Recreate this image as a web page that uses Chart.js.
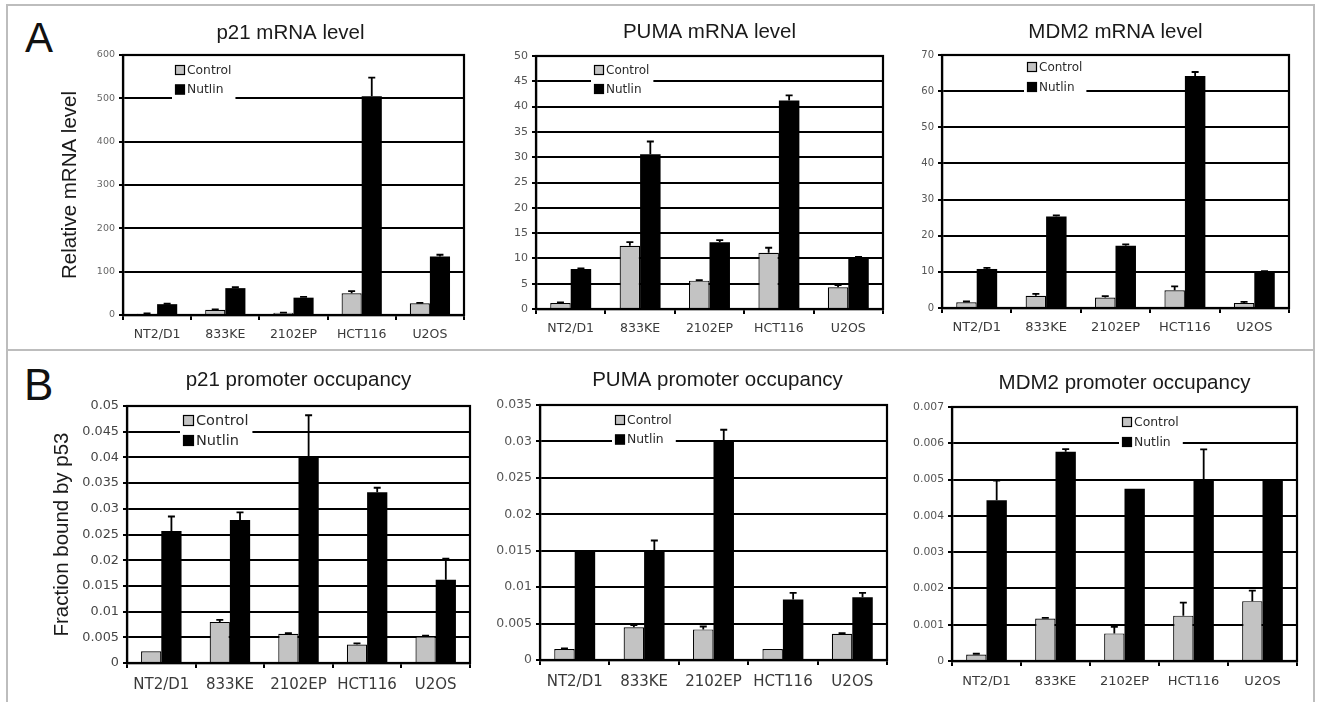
<!DOCTYPE html>
<html>
<head>
<meta charset="utf-8">
<script src="https://cdn.jsdelivr.net/npm/chart.js@4"></script>
<style>
  body { margin: 0; background: #fff; }
  #page { position: relative; width: 1320px; height: 702px; overflow: hidden; background: #fff; }
  .frame { position: absolute; left: 6px; top: 4px; width: 1305px; height: 740px; border: 2px solid #bdbdbd; }
  .divider { position: absolute; left: 6px; top: 349px; width: 1309px; height: 2px; background: #bdbdbd; }
  .letter { position: absolute; font-family: "Liberation Sans", Arial, sans-serif; color: #111; line-height: 1; }
  .box { position: absolute; }
</style>
</head>
<body>
<div id="page">
  <div class="frame"></div>
  <div class="divider"></div>
  <div class="letter" style="left:25px; top:17px; font-size:42px;">A</div>
  <div class="letter" style="left:24px; top:363px; font-size:44px;">B</div>
  <div class="box" id="b1"><canvas id="c1"></canvas></div>
  <div class="box" id="b2"><canvas id="c2"></canvas></div>
  <div class="box" id="b3"><canvas id="c3"></canvas></div>
  <div class="box" id="b4"><canvas id="c4"></canvas></div>
  <div class="box" id="b5"><canvas id="c5"></canvas></div>
  <div class="box" id="b6"><canvas id="c6"></canvas></div>
</div>
<script>
// cell lines
var cellLines = ['NT2/D1', '833KE', '2102EP', 'HCT116', 'U2OS'];
var seriesNames = ['Control', 'Nutlin'];

// A: relative mRNA levels
var p21MrnaControl = [3, 12, 5, 50, 27];
var p21MrnaControlErr = [0.5, 1, 0.5, 5, 1];
var p21MrnaNutlin = [25, 62, 40, 505, 135];
var p21MrnaNutlinErr = [1, 2, 2, 43, 4];
var p21MrnaTicks = ['0', '100', '200', '300', '400', '500', '600'];

var pumaMrnaControl = [1.2, 12.5, 5.6, 11.1, 4.3];
var pumaMrnaControlErr = [0.1, 0.7, 0.1, 1.0, 0.4];
var pumaMrnaNutlin = [7.9, 30.6, 13.2, 41.2, 10.1];
var pumaMrnaNutlinErr = [0.1, 2.5, 0.4, 1.0, 0.2];
var pumaMrnaTicks = ['0', '5', '10', '15', '20', '25', '30', '35', '40', '45', '50'];

var mdm2MrnaControl = [1.6, 3.4, 2.9, 4.9, 1.4];
var mdm2MrnaControlErr = [0.2, 0.5, 0.4, 1.1, 0.3];
var mdm2MrnaNutlin = [10.8, 25.3, 17.2, 64.2, 9.9];
var mdm2MrnaNutlinErr = [0.3, 0.3, 0.4, 1.1, 0.3];
var mdm2MrnaTicks = ['0', '10', '20', '30', '40', '50', '60', '70'];

// B: promoter occupancy (fraction bound by p53)
var p21PromControl = [0.0023, 0.0080, 0.0057, 0.0036, 0.0052];
var p21PromControlErr = [0, 0.0004, 0.0001, 0.0002, 0.0001];
var p21PromNutlin = [0.0257, 0.0278, 0.0400, 0.0332, 0.0162];
var p21PromNutlinErr = [0.0028, 0.0015, 0.0082, 0.0009, 0.0041];
var p21PromTicks = ['0', '0.005', '0.01', '0.015', '0.02', '0.025', '0.03', '0.035', '0.04', '0.045', '0.05'];

var pumaPromControl = [0.0015, 0.0045, 0.0042, 0.0015, 0.0036];
var pumaPromControlErr = [0.0001, 0.0003, 0.0004, 0, 0.0001];
var pumaPromNutlin = [0.0151, 0.0151, 0.0300, 0.0083, 0.0086];
var pumaPromNutlinErr = [0, 0.0013, 0.0016, 0.0009, 0.0006];
var pumaPromTicks = ['0', '0.005', '0.01', '0.015', '0.02', '0.025', '0.03', '0.035'];

var mdm2PromControl = [0.00018, 0.00117, 0.00076, 0.00125, 0.00165];
var mdm2PromControlErr = [0.00002, 0.00002, 0.00018, 0.00036, 0.00029];
var mdm2PromNutlin = [0.00443, 0.00577, 0.00475, 0.00500, 0.00497];
var mdm2PromNutlinErr = [0.00054, 0.00007, 0, 0.00083, 0];
var mdm2PromTicks = ['0', '0.001', '0.002', '0.003', '0.004', '0.005', '0.006', '0.007'];

var TOP_PAD = 48, X_H = 36, RIGHT_PAD = 4;

// error bars, drawn with the y scale
var errorBars = {
  id: 'errorBars',
  afterDatasetsDraw: function(chart) {
    var ctx = chart.ctx, y = chart.scales.y;
    ctx.save();
    ctx.strokeStyle = '#000';
    ctx.lineWidth = 1.8;
    chart.data.datasets.forEach(function(ds, i) {
      var meta = chart.getDatasetMeta(i);
      meta.data.forEach(function(bar, j) {
        var e = ds.errors[j];
        if (!e) return;
        var yEnd = y.getPixelForValue(ds.data[j] + e);
        ctx.beginPath();
        ctx.moveTo(bar.x, bar.y);
        ctx.lineTo(bar.x, yEnd);
        ctx.moveTo(bar.x - 3.5, yEnd);
        ctx.lineTo(bar.x + 3.5, yEnd);
        ctx.stroke();
      });
    });
    ctx.restore();
  }
};

// legend box inside the plot, with white background over grid lines
var innerLegend = {
  id: 'innerLegend',
  afterDatasetsDraw: function(chart, args, o) {
    var ctx = chart.ctx, a = chart.chartArea;
    var x0 = a.left + o.dx, y0 = a.top + o.dy;
    ctx.save();
    ctx.font = o.size + 'px "DejaVu Sans"';
    var w = 0;
    chart.data.datasets.forEach(function(ds) { w = Math.max(w, ctx.measureText(ds.label).width); });
    ctx.fillStyle = '#fff';
    ctx.fillRect(x0 - 3, y0 - 3, o.box + 3 + w + 6, o.gap + o.box + 8);
    chart.data.datasets.forEach(function(ds, i) {
      var by = y0 + i * o.gap;
      ctx.fillStyle = ds.backgroundColor;
      ctx.fillRect(x0, by, o.box, o.box);
      ctx.strokeStyle = '#000';
      ctx.lineWidth = 1.2;
      ctx.strokeRect(x0 + 0.5, by + 0.5, o.box - 1, o.box - 1);
      ctx.fillStyle = '#2a2a2a';
      ctx.textBaseline = 'middle';
      ctx.fillText(ds.label, x0 + o.box + 2, by + o.box / 2 + 0.5);
    });
    ctx.restore();
  }
};

// chart title and plot frame
var panelDecor = {
  id: 'panelDecor',
  afterDraw: function(chart, args, o) {
    var ctx = chart.ctx, a = chart.chartArea;
    ctx.save();
    ctx.strokeStyle = '#000';
    ctx.lineWidth = 2.2;
    ctx.strokeRect(a.left, a.top, a.right - a.left, a.bottom - a.top);
    ctx.fillStyle = '#1a1a1a';
    ctx.font = '20.5px "Liberation Sans", Arial, sans-serif';
    ctx.textAlign = 'center';
    ctx.textBaseline = 'middle';
    ctx.fillText(o.text, (a.left + a.right) / 2 + o.dx, a.top - o.dy);
    ctx.restore();
  }
};

function makePanel(p) {
  var yw = p.yw || 55;
  var w = yw + (p.right - p.left) + RIGHT_PAD;
  var h = TOP_PAD + (p.bottom - p.top) + X_H;
  var box = document.getElementById('b' + p.n);
  box.style.left = (p.left - yw) + 'px';
  box.style.top = (p.top - TOP_PAD) + 'px';
  var cv = document.getElementById('c' + p.n);
  cv.width = w; cv.height = h;
  cv.style.width = w + 'px'; cv.style.height = h + 'px';

  new Chart(cv.getContext('2d'), {
    type: 'bar',
    data: {
      labels: cellLines,
      datasets: [{
        label: seriesNames[0],
        data: p.control,
        errors: p.controlErr,
        backgroundColor: '#c3c3c3',
        borderColor: '#000',
        borderWidth: 1.2,
        barPercentage: 1,
        categoryPercentage: 0.59
      }, {
        label: seriesNames[1],
        data: p.nutlin,
        errors: p.nutlinErr,
        backgroundColor: '#000',
        borderColor: '#000',
        borderWidth: 0,
        barPercentage: 1,
        categoryPercentage: 0.59
      }]
    },
    plugins: [errorBars, innerLegend, panelDecor],
    options: {
      responsive: false,
      animation: false,
      layout: { padding: { top: TOP_PAD, right: RIGHT_PAD, left: 0, bottom: 0 } },
      plugins: {
        legend: { display: false },
        tooltip: { enabled: false },
        innerLegend: p.legend,
        panelDecor: { text: p.title, dx: p.titleDx || 0, dy: p.top - p.titleY }
      },
      scales: {
        x: {
          grid: { offset: true, drawOnChartArea: false, tickLength: 5, color: '#000', lineWidth: 2 },
          border: { display: true, color: '#000', width: 2.2 },
          ticks: {
            padding: p.xPad,
            color: '#3a3a3a',
            font: { family: '"DejaVu Sans"', size: p.xFont },
            maxRotation: 0, autoSkip: false
          },
          afterFit: function(s) { s.height = X_H; }
        },
        y: {
          min: 0,
          max: Number(p.ticks[p.ticks.length - 1]),
          grid: { color: '#000', lineWidth: 2, tickLength: 4 },
          border: { display: true, color: '#000', width: 2.2 },
          ticks: {
            stepSize: Number(p.ticks[1]),
            padding: 4,
            color: p.tickColor || '#555',
            font: { family: '"DejaVu Sans"', size: p.tickFont },
            callback: function(v, i) { return p.ticks[i]; }
          },
          title: p.yTitle ? {
            display: true,
            text: p.yTitle,
            color: '#1a1a1a',
            font: { family: '"Liberation Sans", Arial, sans-serif', size: 20.5 },
            padding: { top: p.yTitlePad, bottom: 0 }
          } : { display: false },
          afterFit: function(s) { s.width = yw; }
        }
      }
    }
  });
}

makePanel({ n: 1, title: 'p21 mRNA level', left: 123, right: 464, top: 55, bottom: 315, titleY: 33, titleDx: -3,
  yw: 83, yTitle: 'Relative mRNA level', yTitlePad: 18,
  control: p21MrnaControl, controlErr: p21MrnaControlErr, nutlin: p21MrnaNutlin, nutlinErr: p21MrnaNutlinErr,
  ticks: p21MrnaTicks, tickFont: 9.5, tickColor: '#666', xFont: 12.5, xPad: 7,
  legend: { dx: 52, dy: 10, box: 10, gap: 19.5, size: 12.3 } });

makePanel({ n: 2, title: 'PUMA mRNA level', left: 536, right: 883, top: 56, bottom: 309, titleY: 32,
  control: pumaMrnaControl, controlErr: pumaMrnaControlErr, nutlin: pumaMrnaNutlin, nutlinErr: pumaMrnaNutlinErr,
  ticks: pumaMrnaTicks, tickFont: 11, xFont: 12.5, xPad: 7,
  legend: { dx: 58, dy: 9, box: 10, gap: 19, size: 12 } });

makePanel({ n: 3, title: 'MDM2 mRNA level', left: 942, right: 1289, top: 55, bottom: 308, titleY: 32,
  control: mdm2MrnaControl, controlErr: mdm2MrnaControlErr, nutlin: mdm2MrnaNutlin, nutlinErr: mdm2MrnaNutlinErr,
  ticks: mdm2MrnaTicks, tickFont: 10, xFont: 13, xPad: 7,
  legend: { dx: 85, dy: 7, box: 10, gap: 20, size: 12 } });

makePanel({ n: 4, title: 'p21 promoter occupancy', left: 127, right: 470, top: 406, bottom: 663, titleY: 380,
  yw: 87, yTitle: 'Fraction bound by p53', yTitlePad: 10,
  control: p21PromControl, controlErr: p21PromControlErr, nutlin: p21PromNutlin, nutlinErr: p21PromNutlinErr,
  ticks: p21PromTicks, tickFont: 12.8, tickColor: '#444', xFont: 15, xPad: 8,
  legend: { dx: 56, dy: 9, box: 11, gap: 20, size: 14.5 } });

makePanel({ n: 5, title: 'PUMA promoter occupancy', left: 540, right: 887, top: 405, bottom: 660, titleY: 380, titleDx: 4,
  control: pumaPromControl, controlErr: pumaPromControlErr, nutlin: pumaPromNutlin, nutlinErr: pumaPromNutlinErr,
  ticks: pumaPromTicks, tickFont: 12.5, xFont: 15, xPad: 8,
  legend: { dx: 75, dy: 10, box: 10, gap: 19.5, size: 12.4 } });

makePanel({ n: 6, title: 'MDM2 promoter occupancy', left: 952, right: 1297, top: 407, bottom: 661, titleY: 383,
  control: mdm2PromControl, controlErr: mdm2PromControlErr, nutlin: mdm2PromNutlin, nutlinErr: mdm2PromNutlinErr,
  ticks: mdm2PromTicks, tickFont: 10.8, xFont: 13, xPad: 8,
  legend: { dx: 170, dy: 10, box: 10, gap: 20, size: 12.4 } });
</script>
</body>
</html>
